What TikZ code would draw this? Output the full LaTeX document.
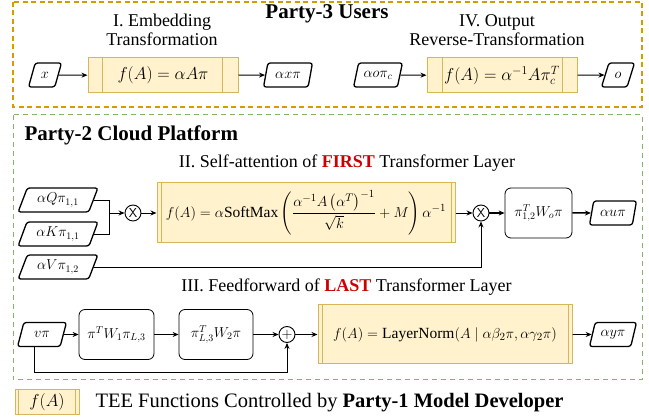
\documentclass[tikz,border=0pt]{standalone}
\usepackage{amsmath}
\usepackage{fontspec}
\setmainfont{Liberation Serif}
\usetikzlibrary{shapes.geometric,arrows.meta,calc}
\definecolor{tborder}{HTML}{D6B656}
\definecolor{tfill}{HTML}{FFF2CC}
\definecolor{ogold}{HTML}{D79B00}
\definecolor{ggreen}{HTML}{82B366}
\definecolor{firstred}{HTML}{CC0000}
\begin{document}
\begin{tikzpicture}[x=1pt,y=-1pt,
 font=\fontsize{18}{19.5}\selectfont,
 para/.style={trapezium, trapezium left angle=66, trapezium right angle=114, trapezium stretches=true, draw, line width=1.3pt, rounded corners=2.5pt, inner sep=0pt, minimum height=24, font=\fontsize{14}{16}\selectfont},
 tee/.style={draw=tborder, fill=tfill, line width=1pt, inner sep=0pt, font=\fontsize{15.5}{18}\selectfont},
 teeline/.style={draw=tborder, line width=1pt},
 rbox/.style={draw, rounded corners=6pt, line width=0.8pt, inner sep=0pt, minimum height=50, font=\fontsize{14}{16}\selectfont},
 arr/.style={-{Stealth[length=6pt,width=5pt]}, line width=0.9pt},
 op/.style={circle, draw, line width=0.9pt, minimum size=16, inner sep=0pt, font=\sffamily\fontsize{13}{13}\selectfont},
 ttl/.style={font=\bfseries\fontsize{21}{24}\selectfont},
]
\useasboundingbox (0,0) rectangle (649,419);

% ---------- Party-3 ----------
\draw[ogold, line width=1.3pt, dash pattern=on 5pt off 3.5pt] (13,2) rectangle (642,107);
\node[ttl] (t3) at (327,14) {Party-3 Users};
\node[align=center] (tI) at (162,30) {I. Embedding\\Transformation};
\node[align=center] (tIV) at (497,30) {IV. Output\\Reverse-Transformation};

\node[tee, minimum width=150, minimum height=35, font=\fontsize{16.5}{18}\selectfont] (fI) at (163,75.5) {$f(A)=\alpha A\pi$};
\draw[teeline] ([xshift=15]fI.north west) -- ([xshift=15]fI.south west);
\draw[teeline] ([xshift=-16]fI.north east) -- ([xshift=-16]fI.south east);
\node[para, minimum width=33] (x) at (45,75) {$x$};
\node[para, minimum width=49] (axp) at (288,75) {$\alpha x\pi$};
\draw[arr] (x) -- (fI);
\draw[arr] (fI) -- (axp);

\node[tee, minimum width=150, minimum height=35, font=\fontsize{16.5}{18}\selectfont] (fIV) at (502,75.5) {$f(A)=\alpha^{-1}A\pi_c^T$};
\draw[teeline] ([xshift=16]fIV.north west) -- ([xshift=16]fIV.south west);
\draw[teeline] ([xshift=-15]fIV.north east) -- ([xshift=-15]fIV.south east);
\node[para, minimum width=49] (aop) at (378,75) {$\alpha o\pi_c$};
\node[para, minimum width=33] (o) at (618,75) {$o$};
\draw[arr] (aop) -- (fIV);
\draw[arr] (fIV) -- (o);

% ---------- Party-2 ----------
\draw[ggreen, line width=1pt, dash pattern=on 5pt off 4pt] (13,115) rectangle (642,380);
\node[ttl, anchor=west] (t2) at (21,135) {Party-2 Cloud Platform};
\node (tII) at (347,163) {II. Self-attention of \textcolor{firstred}{\textbf{FIRST}} Transformer Layer};

\node[para, minimum width=80] (q) at (58,200) {$\alpha Q\pi_{1,1}$};
\node[para, minimum width=80] (k) at (58,234) {$\alpha K\pi_{1,1}$};
\node[para, minimum width=80] (v) at (58,267) {$\alpha V\pi_{1,2}$};
\node[op] (m1) at (133,213) {X};
\coordinate (j1) at (109,213);
\draw[line width=0.8pt] (q.east) -| (j1);
\draw[line width=0.8pt] (k.east) -| (j1);
\draw[arr] (j1) -- (m1);

\node[tee, minimum width=298, minimum height=60] (att) at (306,213)
 {$f(A)=\alpha\mathrm{SoftMax}\left(\dfrac{\alpha^{-1}A\left(\alpha^{T}\right)^{-1}}{\sqrt{k}}+M\right)\alpha^{-1}$};
\draw[teeline] ([xshift=5]att.north west) -- ([xshift=5]att.south west);
\draw[teeline] ([xshift=-4]att.north east) -- ([xshift=-4]att.south east);
\draw[arr] (m1) -- (att);

\node[op] (m2) at (481,213) {X};
\draw[arr] (att) -- (m2);
\draw[arr] (v.east) -| (m2.south);
\node[rbox, minimum width=67] (wo) at (538.5,213) {$\pi_{1,2}^T W_o\pi$};
\draw[arr, line width=1.3pt] (m2) -- (wo);
\node[para, minimum width=47] (aup) at (613,213) {$\alpha u\pi$};
\draw[arr, line width=1.5pt] (wo) -- (aup);

\node (tIII) at (346.5,287) {III. Feedforward of \textcolor{firstred}{\textbf{LAST}} Transformer Layer};
\node[para, minimum width=49] (vp) at (42,334.5) {$v\pi$};
\node[rbox, minimum width=75] (w1) at (116.5,334.5) {$\pi^T W_1\pi_{L,3}$};
\node[rbox, minimum width=74] (w2) at (216,334.5) {$\pi_{L,3}^T W_2\pi$};
\node[op, font=\fontsize{15}{15}\selectfont] (pl) at (287,334.5) {$+$};
\node[tee, minimum width=254, minimum height=59] (ln) at (445,334.5) {$f(A)=\mathrm{LayerNorm}(A\mid \alpha\beta_2\pi,\alpha\gamma_2\pi)$};
\draw[teeline] ([xshift=5]ln.north west) -- ([xshift=5]ln.south west);
\draw[teeline] ([xshift=-4]ln.north east) -- ([xshift=-4]ln.south east);
\node[para, minimum width=47] (ayp) at (613,334.5) {$\alpha y\pi$};
\draw[arr, line width=1.2pt] (vp) -- (w1);
\draw[arr] (w1) -- (w2);
\draw[arr] (w2) -- (pl);
\draw[arr, line width=1.2pt] (pl) -- (ln);
\draw[arr] (ln) -- (ayp);
\draw[arr] ([xshift=-8]vp.south) -- ++(0,25) -| (pl.south);

% ---------- Legend ----------
\node[tee, minimum width=64, minimum height=25, font=\fontsize{16.5}{18}\selectfont] (leg) at (47,402.5) {$f(A)$};
\draw[teeline] ([xshift=4]leg.north west) -- ([xshift=4]leg.south west);
\draw[teeline] ([xshift=-4]leg.north east) -- ([xshift=-4]leg.south east);
\node[anchor=west, font=\fontsize{20.5}{23}\selectfont] (legt) at (92,403) {TEE Functions Controlled by \textbf{Party-1 Model Developer}};
\end{tikzpicture}
\end{document}
